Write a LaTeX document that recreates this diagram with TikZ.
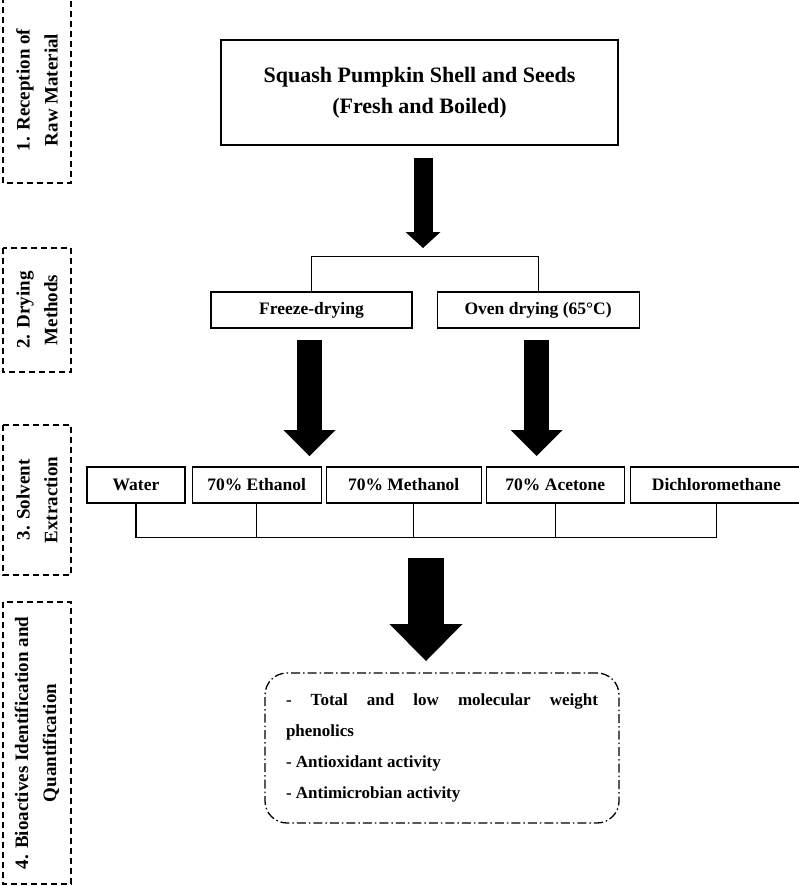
\documentclass[tikz,border=0pt]{standalone}
\usepackage{fontspec}
\setmainfont{Liberation Serif}
\usepackage{tikz}
\usetikzlibrary{positioning}
\usetikzlibrary{arrows.meta}

\begin{document}
\begin{tikzpicture}[x=1pt,y=-1pt,
  stage/.style={draw,dash pattern=on 6pt off 4pt,line width=1.3pt,rotate=90,minimum height=68pt,align=center,font=\fontsize{19}{28}\selectfont\bfseries},
  box/.style={draw,line width=1.1pt,minimum height=36pt,inner sep=0pt,font=\fontsize{17.5}{20}\selectfont\bfseries},
  bigarrow/.style n args={3}{line width=#1,-{Triangle[width=#2,length=#3,line width=0pt]}}]
  \useasboundingbox (0,0) rectangle (799,886);
  \node[stage,minimum width=186pt] (s1) at (37,90) {1. Reception of\\Raw Material};
  \node[stage,minimum width=124pt] (s2) at (37,310) {2. Drying\\Methods};
  \node[stage,minimum width=150pt] (s3) at (37,500) {3. Solvent\\Extraction};
  \node[stage,minimum width=282pt] (s4) at (37,743) {4. Bioactives Identification and\\Quantification};
  \node[draw,line width=1.2pt,minimum width=397pt,minimum height=105pt,align=center,font=\fontsize{22}{31}\selectfont\bfseries] (raw) at (419.5,92.5) {Squash Pumpkin Shell and Seeds\\(Fresh and Boiled)};
  \node[box,minimum width=201pt] (freeze) at (311.5,310) {Freeze-drying};
  \node[box,minimum width=202pt,right=24pt of freeze] (oven) {Oven drying (65°C)};
  \node[box,minimum width=98pt] (water) at (136,485) {Water};
  \node[box,minimum width=129pt,right=6pt of water] (ethanol) {70\% Ethanol};
  \node[box,minimum width=155pt,right=4pt of ethanol] (methanol) {70\% Methanol};
  \node[box,minimum width=138pt,right=4pt of methanol] (acetone) {70\% Acetone};
  \node[box,minimum width=172pt,right=5pt of acetone] (dcm) {Dichloromethane};
  \node[draw,rounded corners=22pt,dash pattern=on 9pt off 3pt on 1.5pt off 3pt,line width=1.3pt,text width=312pt,inner xsep=21pt,minimum height=150pt,align=justify,font=\fontsize{17}{31}\selectfont\bfseries] (res) at (442,748) {- Total and low molecular weight\linebreak phenolics\\- Antioxidant activity\\- Antimicrobian activity};
  \coordinate (t1) at (423,158);
  \coordinate (h1) at (423,248);
  \coordinate (t2) at (309.5,340);
  \coordinate (h2) at (309.5,456);
  \coordinate (t3) at (536.5,340);
  \coordinate (h3) at (536.5,456);
  \coordinate (t4) at (426,558);
  \coordinate (h4) at (426,661);
  \draw[bigarrow={19pt}{35pt}{16pt}](t1)--(h1);
  \draw[bigarrow={25pt}{52pt}{26pt}](t2)--(h2);
  \draw[bigarrow={25pt}{52pt}{26pt}](t3)--(h3);
  \draw[bigarrow={36pt}{73pt}{37pt}](t4)--(h4);
  \draw[line width=1.1pt](freeze.north)--++(0,-35)-|(oven.north);
  \draw[line width=1.1pt](water.south)--++(0,34)-|(dcm.south);
  \draw[line width=1.1pt](ethanol.south)--++(0,34);
  \draw[line width=1.1pt]([xshift=10pt]methanol.south)--++(0,34);
  \draw[line width=1.1pt](acetone.south)--++(0,34);
\end{tikzpicture}
\end{document}
